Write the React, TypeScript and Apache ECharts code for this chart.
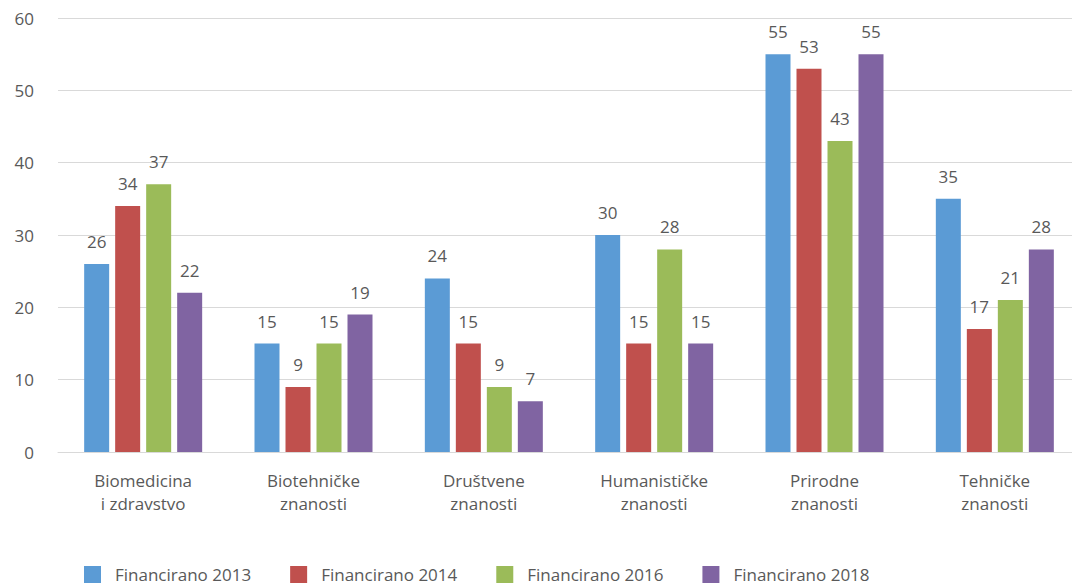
import React, { useEffect, useRef } from "react";
import * as echarts from "echarts";

const categories = [
  "Biomedicina\ni zdravstvo",
  "Biotehničke\nznanosti",
  "Društvene\nznanosti",
  "Humanističke\nznanosti",
  "Prirodne\nznanosti",
  "Tehničke\nznanosti",
];
const seriesNames = ["Financirano 2013", "Financirano 2014", "Financirano 2016", "Financirano 2018"];
const v2013 = [26, 15, 24, 30, 55, 35];
const v2014 = [34, 9, 15, 15, 53, 17];
const v2016 = [37, 15, 9, 28, 43, 21];
const v2018 = [22, 19, 7, 15, 55, 28];
const colors = ["#5B9BD5", "#C0504D", "#9BBB59", "#8064A2"];

export default function App() {
  const ref = useRef<HTMLDivElement>(null);
  useEffect(() => {
    const chart = echarts.init(ref.current!, null, { renderer: "svg" });
    const font = "'Open Sans', sans-serif";
    const data = [v2013, v2014, v2016, v2018];
    chart.setOption({
      animation: false,
      textStyle: { fontFamily: font },
      grid: { left: 50, right: 0, top: 10, bottom: 134, containLabel: false },
      legend: {
        bottom: -2,
        left: 71,
        itemWidth: 17,
        itemHeight: 17,
        itemGap: 39,
        icon: "rect",
        textStyle: { fontSize: 17, color: "#595959", fontFamily: font, padding: [0, 0, 0, 9] },
        data: seriesNames,
      },
      xAxis: {
        type: "category",
        data: categories,
        axisLine: { lineStyle: { color: "#D9D9D9" } },
        axisTick: { show: false },
        axisLabel: { fontSize: 17, color: "#595959", lineHeight: 23, margin: 17, fontFamily: font },
      },
      yAxis: {
        type: "value",
        min: 0,
        max: 60,
        interval: 10,
        axisLine: { show: false },
        axisTick: { show: false },
        splitLine: { lineStyle: { color: "#D9D9D9" } },
        axisLabel: { fontSize: 17, color: "#595959", margin: 24, fontFamily: font },
      },
      series: seriesNames.map((n, i) => ({
        name: n,
        type: "bar",
        data: data[i],
        barWidth: 25,
        barGap: "24%",
        itemStyle: { color: colors[i] },
        label: { show: true, position: "top", distance: 14, fontSize: 17, color: "#595959", fontFamily: font },
      })),
    });
    return () => chart.dispose();
  }, []);
  return <div ref={ref} style={{ width: 1072, height: 578 }} />;
}
